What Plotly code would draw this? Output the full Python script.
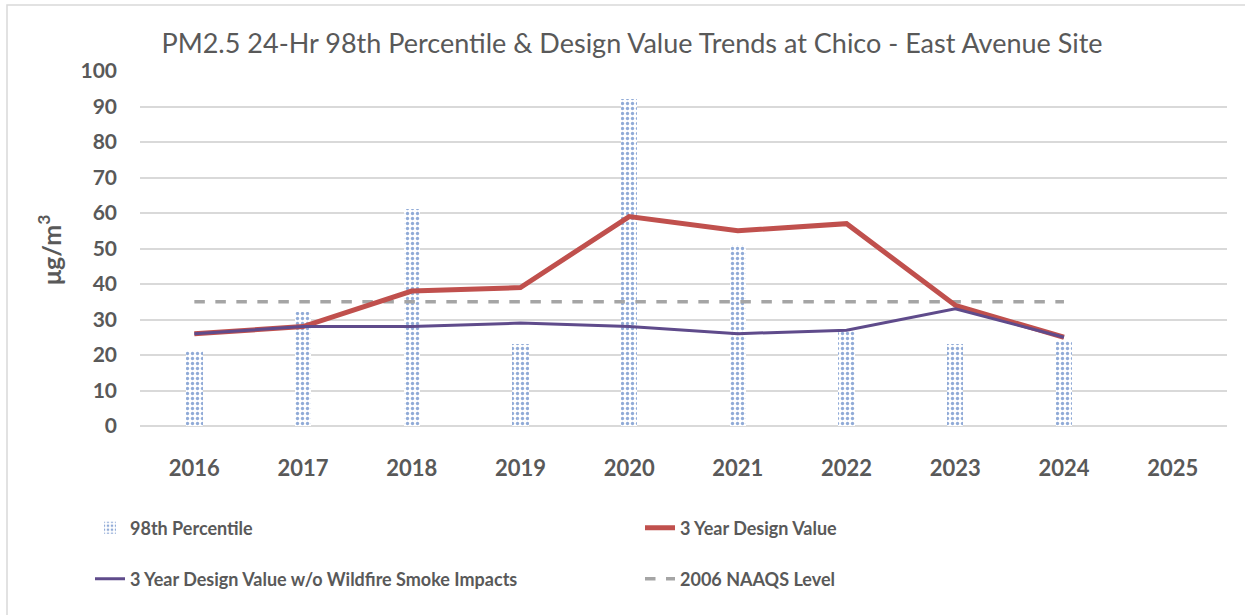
import plotly.graph_objects as go

years = ["2016", "2017", "2018", "2019", "2020", "2021", "2022", "2023", "2024", "2025"]
pct98 = [21, 32, 61, 23, 92, 51, 27, 23, 24, None]
dv3 = [26, 28, 38, 39, 59, 55, 57, 34, 25, None]
dv3_nowf = [26, 28, 28, 29, 28, 26, 27, 33, 25, None]
naaqs = [35, 35, 35, 35, 35, 35, 35, 35, 35, None]
yticks = [0, 10, 20, 30, 40, 50, 60, 70, 80, 90, 100]

FONT = "Lato"
GRAY = "#595959"

W, H = 1245, 615
L, R, T, B = 140, 18, 71, 189
pw, ph = W - L - R, H - T - B

def px_x(x):
    return (x - L) / pw

def px_y(y):
    return (H - B - y) / ph

fig = go.Figure()
fig.add_trace(go.Bar(
    x=years, y=pct98, name="98th Percentile", width=0.15,
    marker=dict(color="white", line=dict(width=0),
                pattern=dict(shape=".", fgcolor="#2458B0", bgcolor="white",
                             size=5, solidity=0.35)),
    legend="legend", legendrank=1,
))
fig.add_trace(go.Scatter(
    x=years, y=naaqs, name="2006 NAAQS Level", mode="lines",
    line=dict(color="#A5A5A5", width=3.5, dash="dash"),
    legend="legend2", legendrank=4,
))
fig.add_trace(go.Scatter(
    x=years, y=dv3, name="3 Year Design Value", mode="lines",
    line=dict(color="#C0504D", width=5),
    legend="legend", legendrank=2,
))
fig.add_trace(go.Scatter(
    x=years, y=dv3_nowf, name="3 Year Design Value w/o Wildfire Smoke Impacts",
    mode="lines", line=dict(color="#5F4B8B", width=3),
    legend="legend2", legendrank=3,
))

legend_common = dict(
    orientation="h", xanchor="left", yanchor="middle",
    font=dict(family=FONT, size=18, color=GRAY, weight="bold"),
    entrywidth=505, entrywidthmode="pixels",
    bgcolor="rgba(0,0,0,0)", traceorder="normal",
)

fig.update_layout(
    width=W, height=H,
    margin=dict(l=L, r=R, t=T, b=B),
    paper_bgcolor="white", plot_bgcolor="white",
    title=dict(text="PM2.5 24-Hr 98th Percentile & Design Value Trends at Chico - East Avenue Site",
               x=632 / W, xanchor="center", y=1 - 44 / H, yanchor="middle",
               font=dict(family=FONT, size=27, color=GRAY)),
    xaxis=dict(type="category", range=[-0.5, 9.5], showgrid=False,
               showline=False, zeroline=False,
               tickfont=dict(family=FONT, size=22, color=GRAY, weight="bold"),
               ticklabelstandoff=27),
    yaxis=dict(range=[0, 100], tickvals=yticks, showgrid=True,
               gridcolor="#D9D9D9", gridwidth=1.5, zeroline=True,
               zerolinecolor="#D9D9D9", zerolinewidth=1.5, showline=False,
               tickfont=dict(family=FONT, size=21, color=GRAY, weight="bold"),
               ticklabelstandoff=22),
    legend=dict(x=px_x(90), y=px_y(528), **legend_common),
    legend2=dict(x=px_x(90), y=px_y(579), **legend_common),
    showlegend=True,
    bargap=0,
)

fig.add_annotation(
    text="μg/m<sup>3</sup>", textangle=-90, showarrow=False,
    xref="paper", yref="paper", x=px_x(49), y=px_y(250),
    xanchor="center", yanchor="middle",
    font=dict(family=FONT, size=25, color=GRAY, weight="bold"),
)

fig.add_shape(type="rect", xref="paper", yref="paper",
              x0=px_x(7), x1=px_x(1260), y0=px_y(640), y1=px_y(5),
              line=dict(color="#D9D9D9", width=1.5), fillcolor="rgba(0,0,0,0)",
              layer="below")

fig.write_html("out.html")
